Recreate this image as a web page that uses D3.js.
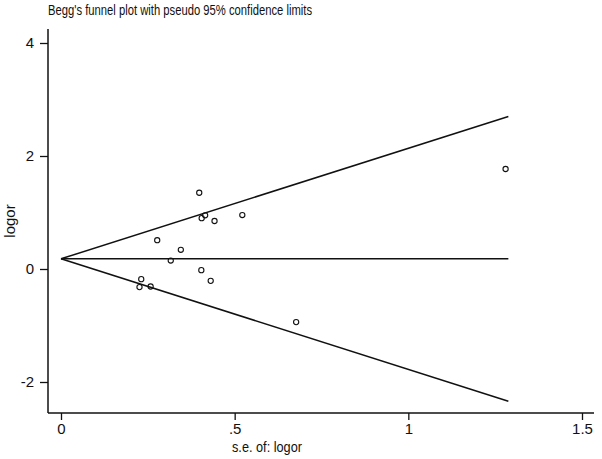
<!DOCTYPE html>
<html>
<head>
<meta charset="utf-8">
<script src="https://cdn.jsdelivr.net/npm/d3@7"></script>
<style>
  body { margin: 0; background: #fff; }
  svg text { font-family: "Liberation Sans", Arial, sans-serif; fill: #111; }
</style>
</head>
<body>
<div id="chart"></div>
<script>
// standard errors and log odds ratios of the studies
const se    = [0.398, 0.405, 0.415, 0.442, 0.522, 0.277, 0.345, 0.316, 0.404, 0.431, 0.231, 0.226, 0.258, 0.677, 1.280];
const logor = [1.35,  0.90,  0.95,  0.85,  0.955, 0.51,  0.34,  0.15, -0.02, -0.21, -0.18, -0.32, -0.31, -0.94, 1.77];

// pseudo 95% limits: [se, lower, pooled, upper]
const limitSe    = [0, 1.288];
const limitLower = [0.18, -2.34];
const limitMid   = [0.18, 0.18];
const limitUpper = [0.18, 2.70];

const xTicks = [0, 0.5, 1, 1.5];
const xTickLabels = ["0", ".5", "1", "1.5"];
const yTicks = [-2, 0, 2, 4];
const yTickLabels = ["-2", "0", "2", "4"];

const width = 602, height = 459;
const svg = d3.select("#chart")
  .append("svg")
  .attr("width", width)
  .attr("height", height);

// Scales
const xScale = d3.scaleLinear()
  .domain([0, 1.5])
  .range([61, 582]);

const yScale = d3.scaleLinear()
  .domain([0, 2])
  .range([269, 156]);

const plotLeft = 48, plotTop = 29, plotBottom = 413, plotRight = 594;

// Axes
const xAxis = d3.axisBottom(xScale)
  .tickValues(xTicks)
  .tickFormat((d, i) => xTickLabels[i])
  .tickSize(7)
  .tickPadding(3);

const yAxis = d3.axisLeft(yScale)
  .tickValues(yTicks)
  .tickFormat((d, i) => yTickLabels[i])
  .tickSize(8)
  .tickPadding(6);

const gx = svg.append("g")
  .attr("transform", `translate(0, ${plotBottom})`)
  .call(xAxis);
gx.select(".domain").remove();
gx.append("line")
  .attr("x1", plotLeft).attr("x2", plotRight)
  .attr("stroke", "#111").attr("stroke-width", 1.5);

const gy = svg.append("g")
  .attr("transform", `translate(${plotLeft}, 0)`)
  .call(yAxis);
gy.select(".domain").remove();
gy.append("line")
  .attr("y1", plotTop).attr("y2", plotBottom)
  .attr("stroke", "#111").attr("stroke-width", 1.5);

svg.selectAll(".tick line").attr("stroke", "#111").attr("stroke-width", 1.3);
svg.selectAll(".tick text")
  .style("font-size", "15px")
  .attr("fill", "#111");

// Funnel lines
const line = d3.line()
  .x((d, i) => xScale(limitSe[i]))
  .y(d => yScale(d));

[limitUpper, limitMid, limitLower].forEach(arr => {
  svg.append("path")
    .datum(arr)
    .attr("d", line)
    .attr("fill", "none")
    .attr("stroke", "#111")
    .attr("stroke-width", 1.5);
});

// Study points
svg.selectAll("circle.pt")
  .data(se)
  .enter()
  .append("circle")
  .attr("class", "pt")
  .attr("cx", d => xScale(d))
  .attr("cy", (d, i) => yScale(logor[i]))
  .attr("r", 2.6)
  .attr("fill", "none")
  .attr("stroke", "#111")
  .attr("stroke-width", 1.1);

// Title
svg.append("text")
  .attr("x", 48)
  .attr("y", 15)
  .attr("textLength", 264)
  .attr("lengthAdjust", "spacingAndGlyphs")
  .style("font-size", "14px")
  .text("Begg's funnel plot with pseudo 95% confidence limits");

// Axis titles
svg.append("text")
  .attr("x", 267)
  .attr("y", 452)
  .attr("text-anchor", "middle")
  .attr("textLength", 70)
  .attr("lengthAdjust", "spacingAndGlyphs")
  .style("font-size", "15px")
  .text("s.e. of: logor");

svg.append("text")
  .attr("transform", "rotate(-90)")
  .attr("x", -221)
  .attr("y", 15)
  .attr("text-anchor", "middle")
  .style("font-size", "15px")
  .text("logor");
</script>
</body>
</html>
